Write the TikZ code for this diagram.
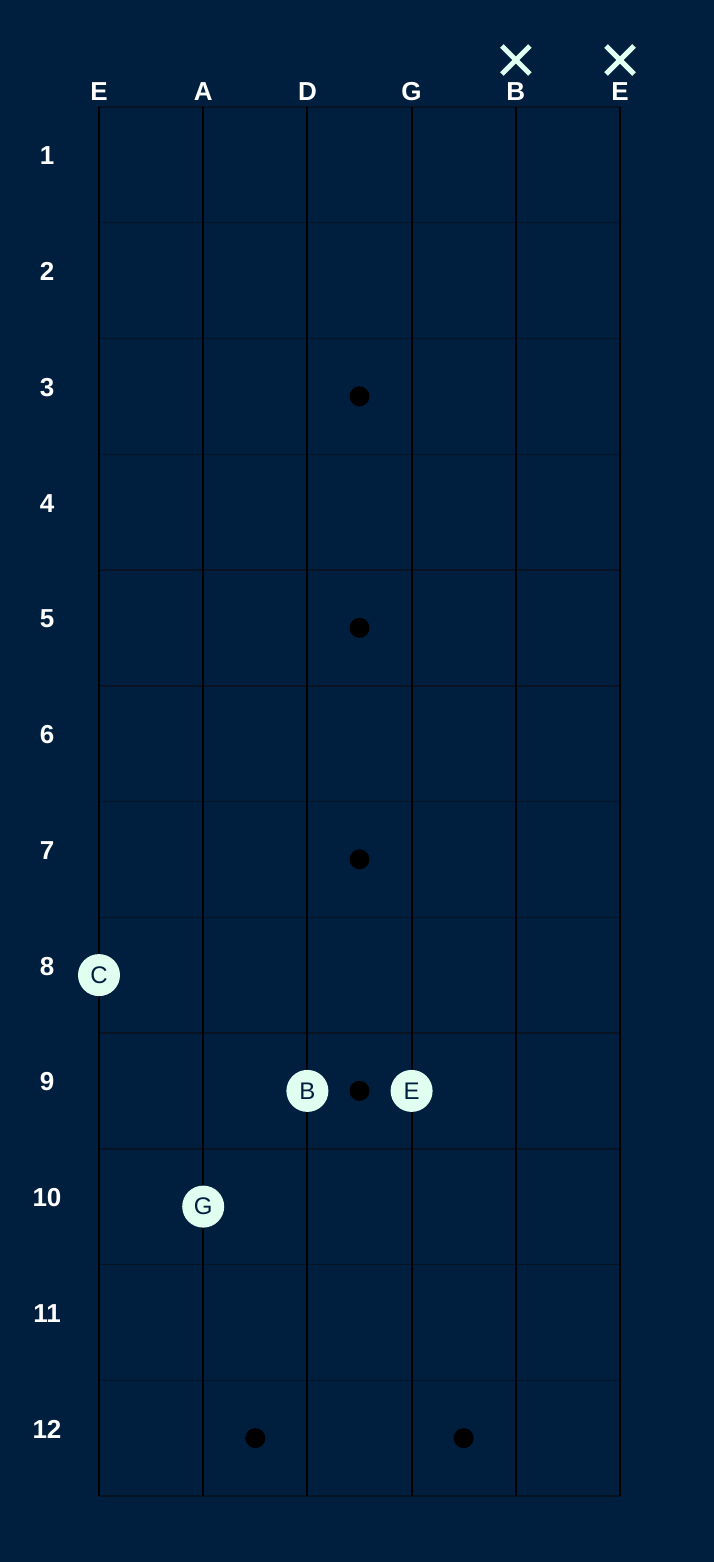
\documentclass[tikz,border=0pt]{standalone}
\usepackage{fontspec}
\setmainfont{Liberation Sans}
\usepackage{tikz}
\usetikzlibrary{positioning}
\definecolor{cBg}{RGB}{0,31,63}
\definecolor{cFret}{RGB}{8,20,36}
\definecolor{cNote}{RGB}{224,255,240}
\tikzset{
  notedot/.style={circle,fill=cNote,minimum size=42pt,inner sep=0pt,text=cBg,font=\fontsize{24}{24}\selectfont},
  label/.style={text=white,font=\fontsize{26}{26}\selectfont\bfseries,anchor=base},
}
\begin{document}
\begin{tikzpicture}[x=1pt,y=-1pt]
  % Background
  \fill[cBg] (0,0) rectangle (714,1562);
  \useasboundingbox (0,0) rectangle (714,1562);
  % Frets
  \foreach \k in {0,...,12}
    \draw[cFret,line width=1.5pt] (99,107+115.75*\k) -- (620,107+115.75*\k);
  % Strings
  \foreach \s [count=\i from 0] in {E,A,D,G,B,E} {
    \draw[black,line width=2pt] (99+104.2*\i,107) -- (99+104.2*\i,1496);
    \node[label] (s\i) at (99+104.2*\i,101) {\s};
  }
  % Fret numbers
  \foreach \k in {1,...,12}
    \node[label] (f\k) at (47,107+115.75*\k-57.9) {\k};
  % Inlays
  \foreach \k in {3,5,7,9}
    \fill[black] (359.5,107+115.75*\k-57.9) circle (10pt);
  \fill[black] (255.3,1438.1) circle (10pt);
  \fill[black] (463.7,1438.1) circle (10pt);
  % Muted strings
  \foreach \i in {4,5}
    \draw[cNote,line width=5pt] (99+104.2*\i-14,46) -- (99+104.2*\i+14,74)
      (99+104.2*\i-14,74) -- (99+104.2*\i+14,46);
  % Notes
  \node[notedot] (noteC) at (99,975.1) {C};
  \node[notedot] (noteB) at (307.4,1090.9) {B};
  \node[notedot] (noteE) at (411.6,1090.9) {E};
  \node[notedot] (noteG) at (203.2,1206.6) {G};
\end{tikzpicture}
\end{document}
